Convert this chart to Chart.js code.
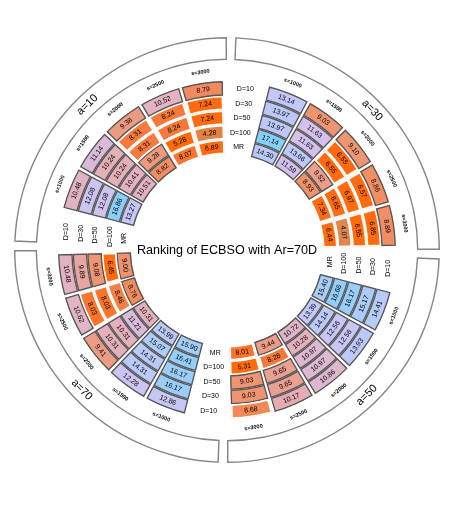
<!DOCTYPE html>
<html><head><meta charset="utf-8">
<script src="https://cdn.jsdelivr.net/npm/chart.js@4.4.1/dist/chart.umd.min.js"></script>
<style>html,body{margin:0;padding:0;background:#fff;}#wrap{width:457px;height:519px;position:relative;}</style>
</head><body><div id="wrap"><canvas id="c" width="457" height="519"></canvas></div>
<script>
// ---------- data ----------
const chartTitle = 'Ranking of ECBSO with Ar=70D';
const quadrantLabels = ['a=10', 'a=30', 'a=50', 'a=70'];           // clockwise from the left
const groupLabels = ['s=1000', 's=1500', 's=2000', 's=2500', 's=3000'];
const ringLabels = ['D=10', 'D=30', 'D=50', 'D=100', 'MR'];          // outer -> inner
// values per ring; order: a=10 (s=1000..3000), a=30, a=50, a=70
const D10  = [10.48, 11.14, 9.38, 10.52, 8.79,  13.14, 9.03, 9.10, 8.86, 8.89,  14.41, 13.93, 10.86, 10.17, 8.68,  12.86, 12.28, 9.41, 10.62, 10.48];
const D30  = [12.08, 10.24, 8.31, 8.24, 7.24,   13.97, 11.63, 6.55, 6.57, 6.85, 15.17, 12.56, 10.97, 9.65, 9.03,   16.17, 14.31, 10.31, 8.03, 9.89];
const D50  = [12.08, 10.24, 8.31, 8.24, 7.24,   13.97, 11.63, 6.55, 6.97, 6.55, 16.17, 12.56, 10.97, 9.65, 9.03,   16.17, 14.31, 10.31, 8.03, 9.08];
const D100 = [16.86, 10.41, 9.28, 5.28, 4.28,   17.14, 13.66, 9.52, 6.65, 4.07, 16.66, 14.14, 10.28, 8.28, 5.31,   16.41, 15.07, 11.21, 8.46, 6.45];
const MR   = [13.27, 10.51, 8.82, 8.07, 6.89,   14.30, 11.59, 8.93, 7.34, 6.44, 15.40, 13.39, 10.72, 9.44, 8.01,   15.90, 13.99, 10.31, 8.76, 9.00];
const ringValues = [D10, D30, D50, D100, MR];

// ---------- layout / style ----------
const SLOT = 15, SEP = 1.1;
const DATA_ROT = 269;
const A_GAP = 2.4, A_ROT = 271.1;
const FONT = '"Liberation Sans", Arial, sans-serif';
const CLEAR = 'rgba(0,0,0,0)';
const stops = [[4.0,'#DC8A56'],[5.0,'#FF6A0A'],[7.6,'#FF6C10'],[8.3,'#F47A3C'],[9.0,'#EF936E'],[9.7,'#EAA294'],[10.3,'#E4B0BC'],[11.0,'#DDB8D2'],[11.6,'#D4C0EA'],[12.5,'#CAC6F6'],[13.8,'#BEC9F8'],[15.0,'#AECCF8'],[16.2,'#9ACEF8'],[17.2,'#82D0F8']];
function hex(h){return [1,3,5].map(i=>parseInt(h.substr(i,2),16));}
function colorFor(v){
  if (v <= stops[0][0]) return stops[0][1];
  for (let i=1;i<stops.length;i++){
    if (v <= stops[i][0]){
      const [v0,c0]=stops[i-1],[v1,c1]=stops[i];const t=(v-v0)/(v1-v0);
      const a=hex(c0),b=hex(c1);
      return 'rgb('+a.map((x,k)=>Math.round(x+(b[k]-x)*t)).join(',')+')';
    }
  }
  return stops[stops.length-1][1];
}
function borderFor(v){return v >= 8.7 ? '#565656' : '#ffffff';}

function dataRing(vals, r){
  const data=[],bg=[],bc=[],bw=[],info=[];
  for (let q=0;q<4;q++){
    data.push(SLOT-SEP, SEP); bg.push(CLEAR,CLEAR); bc.push(CLEAR,CLEAR); bw.push(0,0);
    info.push({text:ringLabels[r], font:'7px '+FONT, axis:true}, null);
    for (let g=0;g<5;g++){
      const v = vals[q*5+g];
      data.push(SLOT-SEP, SEP);
      bg.push(colorFor(v), CLEAR); bc.push(borderFor(v), CLEAR); bw.push(v>=8.7?1:1.3, 0);
      info.push({text:v.toFixed(2), font:'7px '+FONT}, null);
    }
  }
  return {data, backgroundColor:bg, borderColor:bc, borderWidth:bw, borderAlign:'inner', weight:14.6, rotation:DATA_ROT+SEP/2, hoverOffset:0, cellInfo:info};
}
function sRing(){
  const data=[],info=[];
  for (let q=0;q<4;q++){
    data.push(SLOT); info.push(null);
    for (let g=0;g<5;g++){data.push(SLOT); info.push({text:groupLabels[g], font:'bold 5.5px '+FONT});}
  }
  return {data, backgroundColor:CLEAR, borderWidth:0, weight:21, rotation:DATA_ROT, hoverOffset:0, cellInfo:info};
}
function aRing(){
  const data=[],bg=[],bc=[],bw=[],info=[];
  quadrantLabels.forEach(l=>{
    data.push(90-A_GAP, A_GAP); bg.push('#ffffff',CLEAR); bc.push('#858585',CLEAR); bw.push(1.1,0);
    info.push({text:l, font:'11px '+FONT}, null);
  });
  return {data, backgroundColor:bg, borderColor:bc, borderWidth:bw, borderAlign:'inner', weight:23, rotation:A_ROT+A_GAP/2, hoverOffset:0, cellInfo:info};
}

const labelPlugin = {
  id:'ringLabels',
  afterDatasetsDraw(chart){
    const ctx = chart.ctx;
    chart.data.datasets.forEach((ds, di)=>{
      const meta = chart.getDatasetMeta(di);
      meta.data.forEach((el,i)=>{
        const inf = ds.cellInfo[i];
        if (!inf) return;
        const p = el.getProps(['x','y','startAngle','endAngle','innerRadius','outerRadius'], true);
        const m = (p.startAngle+p.endAngle)/2, r=(p.innerRadius+p.outerRadius)/2;
        const px = p.x+Math.cos(m)*r, py = p.y+Math.sin(m)*r;
        let comp = (m*180/Math.PI+90)%360; if (comp<0) comp+=360;
        let rot = (comp>90 && comp<270) ? comp-180 : comp;
        if (inf.axis) rot = Math.round(rot/90)*90;
        ctx.save(); ctx.translate(px,py); ctx.rotate(rot*Math.PI/180);
        ctx.font = inf.font; ctx.fillStyle='#000'; ctx.textAlign='center'; ctx.textBaseline='middle';
        ctx.fillText(inf.text,0,0); ctx.restore();
      });
    });
    const m0 = chart.getDatasetMeta(0).data[0];
    ctx.save(); ctx.font='12.6px '+FONT; ctx.fillStyle='#000'; ctx.textAlign='center'; ctx.textBaseline='middle';
    ctx.fillText(chartTitle, m0.x, m0.y+1); ctx.restore();
  }
};

new Chart(document.getElementById('c'), {
  type:'doughnut',
  data:{datasets:[aRing(), sRing(), ...ringValues.map((v,r)=>dataRing(v,r))]},
  options:{
    responsive:false, animation:false, events:[],
    cutout:96,
    layout:{padding:{left:14,right:17,top:37,bottom:56}},
    plugins:{legend:{display:false}, tooltip:{enabled:false}}
  },
  plugins:[labelPlugin]
});
</script></body></html>
